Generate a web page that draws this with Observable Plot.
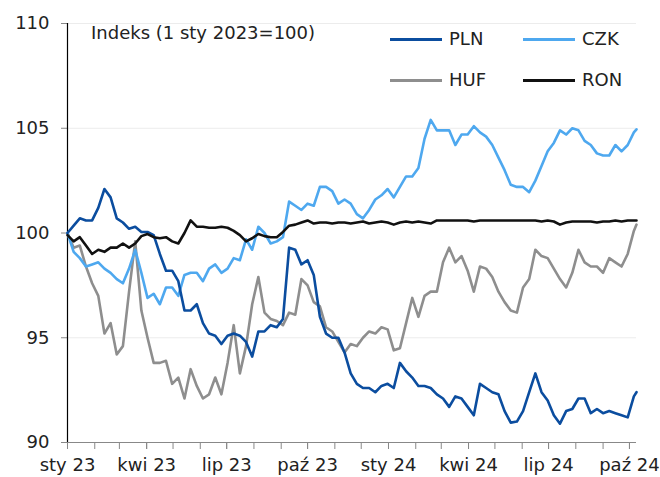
<!DOCTYPE html>
<html><head><meta charset="utf-8">
<script src="https://cdn.jsdelivr.net/npm/d3@7"></script>
<script src="https://cdn.jsdelivr.net/npm/@observablehq/plot@0.6"></script>
<style>
body{margin:0;background:#fff;}
#wrap{position:relative;width:660px;height:477px;font-family:"DejaVu Sans",sans-serif;color:#222;}
#wrap svg{position:absolute;left:0;top:0;}
.title{position:absolute;left:91px;top:24px;font-size:18px;line-height:18px;white-space:nowrap;}
.leg{position:absolute;font-size:18px;line-height:18px;white-space:nowrap;}
.legline{position:absolute;height:3px;}
</style></head><body><div id="wrap"></div>
<script>
// weekly observations from 1 Jan 2023, last one on 9 Oct 2024
const seriesNames = ["PLN", "CZK", "HUF", "RON"];
const seriesColors = ["#0b4d9f", "#4ea8ef", "#8e8e8e", "#111111"];
const monthNames = ["sty","lut","mar","kwi","maj","cze","lip","sie","wrz","paź","lis","gru"];
const titleText = "Indeks (1 sty 2023=100)";
const yTicks = [90, 95, 100, 105, 110];

const PLN = [100.0,100.35,100.7,100.6,100.6,101.2,102.1,101.7,100.7,100.5,
  100.2,100.3,100.05,100.05,99.9,99.0,98.2,98.2,97.7,96.3,
  96.3,96.6,95.7,95.2,95.1,94.7,95.1,95.2,95.1,94.8,
  94.1,95.3,95.3,95.6,95.5,95.9,99.3,99.2,98.5,98.7,
  98.0,96.0,95.2,95.0,95.0,94.3,93.3,92.8,92.6,92.6,
  92.4,92.7,92.8,92.6,93.8,93.4,93.1,92.7,92.7,92.6,
  92.3,92.1,91.7,92.2,92.1,91.7,91.3,92.8,92.6,92.4,
  92.3,91.5,90.95,91.0,91.5,92.4,93.3,92.4,92.0,91.3,
  90.9,91.5,91.6,92.1,92.1,91.4,91.6,91.4,91.5,91.4,
  91.3,91.2,92.2,92.4];
const CZK = [100.0,99.1,98.8,98.4,98.5,98.6,98.3,98.1,97.8,97.6,
  98.3,99.2,98.1,96.9,97.1,96.6,97.4,97.4,97.0,98.0,
  98.1,98.1,97.7,98.3,98.5,98.1,98.3,98.8,98.7,99.7,
  99.2,100.3,100.0,99.5,99.6,99.8,101.5,101.3,101.1,101.4,
  101.3,102.2,102.2,102.0,101.4,101.6,101.4,100.9,100.7,101.1,
  101.6,101.8,102.1,101.7,102.2,102.7,102.7,103.1,104.5,105.4,
  104.9,104.9,104.9,104.2,104.7,104.7,105.1,104.8,104.6,104.2,
  103.6,103.0,102.3,102.2,102.2,101.95,102.5,103.2,103.9,104.3,
  104.9,104.7,105.0,104.9,104.4,104.2,103.8,103.7,103.7,104.2,
  103.9,104.2,104.8,104.95];
const HUF = [100.0,99.3,99.4,98.4,97.6,97.0,95.2,95.7,94.2,94.6,
  97.2,99.6,96.3,95.0,93.8,93.8,93.9,92.8,93.1,92.1,
  93.5,92.7,92.1,92.3,93.1,92.3,93.8,95.6,93.3,94.6,
  96.6,97.9,96.2,95.9,95.8,95.6,96.2,96.1,97.8,97.5,
  96.7,96.5,95.5,95.3,94.8,94.3,94.7,94.6,95.0,95.3,
  95.2,95.5,95.4,94.4,94.5,95.7,96.9,96.0,97.0,97.2,
  97.2,98.6,99.3,98.6,98.9,98.2,97.2,98.4,98.3,97.9,
  97.2,96.7,96.3,96.2,97.4,97.8,99.2,98.9,98.8,98.3,
  97.8,97.4,98.1,99.2,98.6,98.4,98.4,98.1,98.8,98.6,
  98.4,99.0,100.1,100.4];
const RON = [99.9,99.6,99.8,99.4,99.0,99.2,99.1,99.3,99.3,99.5,
  99.3,99.5,99.85,99.95,99.8,99.75,99.8,99.6,99.5,100.0,
  100.6,100.3,100.3,100.25,100.25,100.3,100.25,100.1,99.9,99.6,
  99.75,99.95,99.85,99.8,99.8,100.05,100.35,100.4,100.5,100.6,
  100.45,100.5,100.5,100.45,100.5,100.5,100.45,100.5,100.55,100.45,
  100.5,100.55,100.5,100.4,100.5,100.55,100.5,100.55,100.5,100.45,
  100.6,100.6,100.6,100.6,100.6,100.6,100.55,100.6,100.6,100.6,
  100.6,100.6,100.6,100.6,100.6,100.6,100.6,100.55,100.6,100.55,
  100.4,100.5,100.55,100.55,100.55,100.55,100.5,100.55,100.55,100.6,
  100.55,100.6,100.6,100.6];

const start = new Date(Date.UTC(2023, 0, 1));
const end = new Date(Date.UTC(2024, 9, 9));
const dates = d3.range(93).map(k => d3.utcDay.offset(start, 7 * k)).concat([end]);
const seriesValues = [PLN, CZK, HUF, RON];

const rows = [];
seriesNames.forEach((name, s) => {
  seriesValues[s].forEach((v, i) => rows.push({date: dates[i], value: v, series: name}));
});

const quarterTicks = d3.utcMonth.range(start, end, 3);
const monthTicks = d3.utcMonth.range(start, end);
const fmt = d => monthNames[d.getUTCMonth()] + " " + String(d.getUTCFullYear()).slice(2);

const drawOrder = ["HUF", "CZK", "PLN", "RON"];

const chart = Plot.plot({
  width: 660,
  height: 477,
  marginLeft: 67,
  marginRight: 24,
  marginTop: 23,
  marginBottom: 35,
  style: {fontFamily: "DejaVu Sans, sans-serif", fontSize: "18px", color: "#222", background: "#fff", overflow: "visible"},
  x: {type: "utc", domain: [start, end]},
  y: {domain: [90, 110]},
  color: {domain: seriesNames, range: seriesColors},
  marks: [
    Plot.ruleY(yTicks.filter(v => v !== 90 && v !== 100), {stroke: "#ececec", strokeWidth: 1}),
    Plot.axisY({ticks: yTicks, tickSize: 6, tickPadding: 12, label: null, stroke: "#888", tickFormat: d => String(d)}),
    Plot.axisX({ticks: monthTicks, tickSize: 7, tickFormat: () => "", label: null, stroke: "#888"}),
    Plot.axisX({ticks: quarterTicks, tickSize: 7, tickPadding: 9, tickFormat: fmt, label: null, stroke: "#888"}),
    Plot.ruleY([90], {stroke: "#888", strokeWidth: 1.2}),
    Plot.ruleX([start], {stroke: "#000", strokeWidth: 1.2}),
    ...drawOrder.map(name => Plot.line(rows.filter(r => r.series === name), {
      x: "date", y: "value", stroke: "series", strokeWidth: 2.6, strokeLinejoin: "round", strokeLinecap: "round"
    }))
  ]
});

const wrap = document.getElementById("wrap");
wrap.appendChild(chart);

const t = document.createElement("div");
t.className = "title";
t.textContent = titleText;
wrap.appendChild(t);

const legPos = [[390, 39], [523, 39], [390, 80], [523, 80]];
seriesNames.forEach((name, i) => {
  const [lx, ly] = legPos[i];
  const ln = document.createElement("div");
  ln.className = "legline";
  ln.style.left = lx + "px";
  ln.style.top = (ly - 1.5) + "px";
  ln.style.width = "52px";
  ln.style.background = seriesColors[i];
  wrap.appendChild(ln);
  const tx = document.createElement("div");
  tx.className = "leg";
  tx.style.left = (lx + 59) + "px";
  tx.style.top = (ly - 8.6) + "px";
  tx.textContent = name;
  wrap.appendChild(tx);
});
</script></body></html>
